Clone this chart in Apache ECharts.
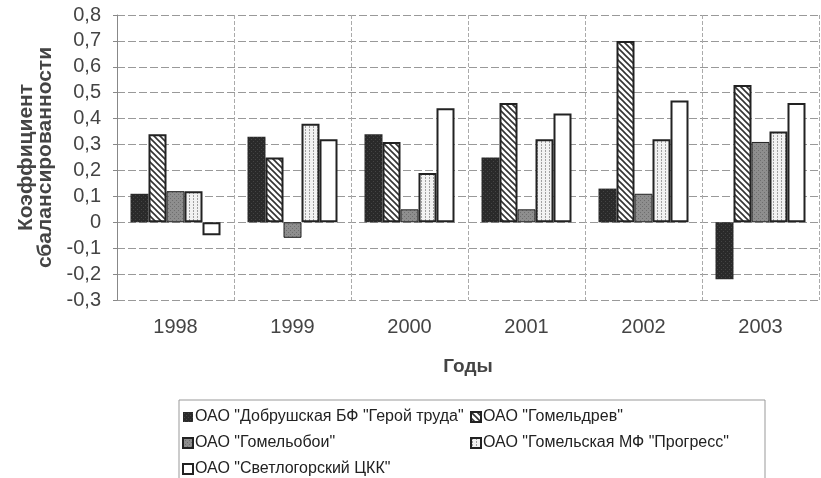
<!DOCTYPE html>
<html><head><meta charset="utf-8">
<script src="https://cdn.jsdelivr.net/npm/echarts@6/dist/echarts.min.js"></script>
<style>html,body{margin:0;padding:0;background:#fff}#c{width:821px;height:478px}</style>
</head><body><div id="c"></div>
<script>
const categories = ['1998','1999','2000','2001','2002','2003'];
const seriesNames = ['ОАО "Добрушская БФ "Герой труда"','ОАО "Гомельдрев"','ОАО "Гомельобои"','ОАО "Гомельская МФ "Прогресс"','ОАО "Светлогорский ЦКК"'];
const dobrush = [0.11, 0.33, 0.34, 0.25, 0.13, -0.22];
const gomeldrev = [0.34, 0.25, 0.31, 0.46, 0.70, 0.53];
const gomeloboi = [0.12, -0.06, 0.05, 0.05, 0.11, 0.31];
const progress = [0.12, 0.38, 0.19, 0.32, 0.32, 0.35];
const svetlogorsk = [-0.05, 0.32, 0.44, 0.42, 0.47, 0.46];
const yTicks = ['-0,3','-0,2','-0,1','0','0,1','0,2','0,3','0,4','0,5','0,6','0,7','0,8'];

function pat(w,h,draw){const c=document.createElement('canvas');c.width=w;c.height=h;const g=c.getContext('2d');draw(g);return {image:c,repeat:'repeat'};}
const darkFill = pat(4,4,g=>{g.fillStyle='#2a2a2a';g.fillRect(0,0,4,4);g.fillStyle='#444';g.fillRect(1,1,1,1);g.fillRect(3,3,1,1);});
const hatchFill = pat(6,6,g=>{g.fillStyle='#fff';g.fillRect(0,0,6,6);g.strokeStyle='#333';g.lineWidth=1.6;g.beginPath();g.moveTo(-1,-1);g.lineTo(7,7);g.moveTo(-1,5);g.lineTo(1,7);g.moveTo(5,-1);g.lineTo(7,1);g.stroke();});
const grayFill = pat(4,4,g=>{g.fillStyle='#8e8e8e';g.fillRect(0,0,4,4);g.fillStyle='#6e6e6e';g.fillRect(0,0,1,1);g.fillRect(2,2,1,1);});
const lightFill = pat(4,3,g=>{g.fillStyle='#f2f2f2';g.fillRect(0,0,4,3);g.fillStyle='#a0a0a0';g.fillRect(1,0,1,2);});
const whiteFill = '#ffffff';

const dataArr = [dobrush, gomeldrev, gomeloboi, progress, svetlogorsk];
const fills = [darkFill, hatchFill, grayFill, lightFill, whiteFill];
const borders = [0, 2, 1, 2, 2];
const FONT = 'Liberation Sans, Arial';
const legendText = {fontFamily:FONT,fontSize:16,color:'#222',padding:[0,0,0,-3]};

const chart = echarts.init(document.getElementById('c'));
chart.setOption({
  animation:false,
  grid:{left:117,right:2,top:15,bottom:178},
  legend:[
    {orient:'vertical',left:182,top:409,padding:0,itemWidth:10,itemHeight:10,itemGap:10,icon:'rect',
     textStyle:legendText,data:[seriesNames[0],seriesNames[2],seriesNames[4]]},
    {orient:'vertical',left:470,top:409,padding:0,itemWidth:10,itemHeight:10,itemGap:10,icon:'rect',
     textStyle:legendText,data:[seriesNames[1],seriesNames[3]]}
  ],
  graphic:[{type:'rect',shape:{x:179,y:400,width:586,height:90},style:{fill:'none',stroke:'#999',lineWidth:1}}],
  xAxis:{type:'category',data:categories,
    name:'Годы',nameLocation:'middle',nameGap:57,
    nameTextStyle:{fontFamily:FONT,fontSize:19,fontWeight:'bold',color:'#444'},
    axisLine:{show:false},axisTick:{show:false},
    axisLabel:{fontFamily:FONT,fontSize:20,color:'#444',margin:17},
    splitLine:{show:true,lineStyle:{color:'#aaa',type:'dashed'}}},
  yAxis:{type:'value',min:-0.3,max:0.8,interval:0.1,
    name:'Коэффициент\nсбалансированности',nameLocation:'middle',nameGap:62,
    nameTextStyle:{fontFamily:FONT,fontSize:21,fontWeight:'bold',color:'#444',lineHeight:19},
    axisLine:{show:true,lineStyle:{color:'#888'}},axisTick:{show:true,length:4,lineStyle:{color:'#888'}},
    axisLabel:{fontFamily:FONT,fontSize:20,color:'#444',margin:16,
      formatter:v=>{const i=Math.round((v+0.3)*10);return yTicks[i];}},
    splitLine:{show:true,lineStyle:{color:'#999',type:[8,3]}}},
  series:dataArr.map((d,i)=>({
    name:seriesNames[i],type:'bar',data:d,barWidth:18,barGap:'0%',
    itemStyle:{color:fills[i],borderColor:'#222',borderWidth:borders[i]}
  }))
});
</script></body></html>
